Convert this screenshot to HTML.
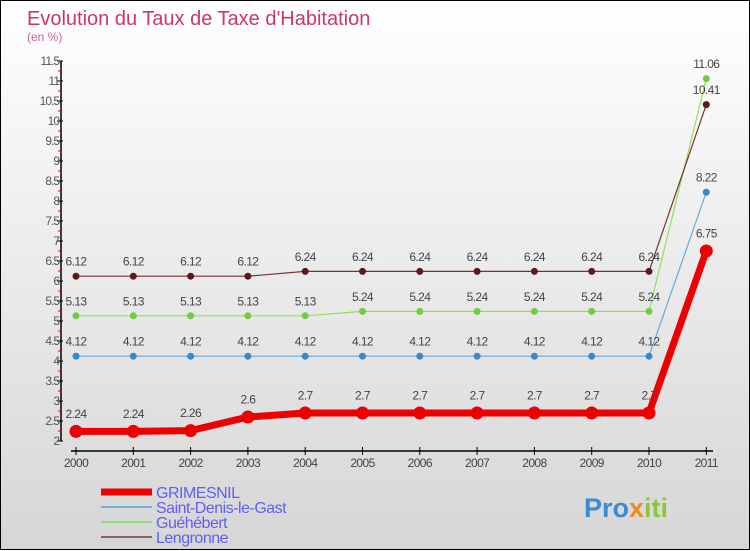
<!DOCTYPE html>
<html><head><meta charset="utf-8">
<style>
html,body{margin:0;padding:0}
body{width:750px;height:550px;overflow:hidden;font-family:"Liberation Sans",sans-serif}
#wrap{position:relative;width:748px;height:548px;border:1px solid #000;background:linear-gradient(#ffffff,#d6d6d6)}
svg{position:absolute;left:0;top:0}
</style></head>
<body>
<div id="wrap">
<svg id="chart" width="750" height="550">
<text x="26" y="24" font-size="20" fill="#c8386a">Evolution du Taux de Taxe d'Habitation</text>
<text x="26" y="40" font-size="12" fill="#d0609a">(en %)</text>
<g id="axes"></g>
<g id="series"></g>
<g id="legend"></g>
<text x="583" y="516" font-size="27" font-weight="bold" fill="#3a8ad8">Pro<tspan fill="#f08a1a">x</tspan><tspan fill="#8ac83a">iti</tspan></text>
</svg>
</div>
<script>
const years = ["2000","2001","2002","2003","2004","2005","2006","2007","2008","2009","2010","2011"];
const grimesnil = [2.24,2.24,2.26,2.6,2.7,2.7,2.7,2.7,2.7,2.7,2.7,6.75];
const saintDenis = [4.12,4.12,4.12,4.12,4.12,4.12,4.12,4.12,4.12,4.12,4.12,8.22];
const guehebert = [5.13,5.13,5.13,5.13,5.13,5.24,5.24,5.24,5.24,5.24,5.24,11.06];
const lengronne = [6.12,6.12,6.12,6.12,6.24,6.24,6.24,6.24,6.24,6.24,6.24,10.41];
const yTicks = [2,2.5,3,3.5,4,4.5,5,5.5,6,6.5,7,7.5,8,8.5,9,9.5,10,10.5,11,11.5];

const NS="http://www.w3.org/2000/svg";
function y(v){return 440-(v-2)*40;}
function x(i){return 75+i*57.3;}
function mk(tag,attrs,parent,txt){const e=document.createElementNS(NS,tag);for(const k in attrs)e.setAttribute(k,attrs[k]);if(txt!==undefined)e.textContent=txt;parent.appendChild(e);return e;}

const axes=document.getElementById('axes');
let l=mk('line',{x1:60,y1:y(2),x2:60,y2:y(11.5),stroke:'#000','stroke-width':1.5},axes);


yTicks.forEach(t=>{
  let tk=mk('line',{x1:56,y1:y(t),x2:62,y2:y(t),stroke:'#000'},axes);
  
  
  let tx=mk('text',{x:58,y:y(t)+4,'font-size':12,fill:'#555','text-anchor':'end','letter-spacing':'-1'},axes,String(t));
  
  
  if(t<11.5){let m=mk('line',{x1:57,y1:y(t+0.25),x2:60,y2:y(t+0.25),stroke:'#e00'},axes);
  
  }
});
l=mk('line',{x1:70,y1:450,x2:712,y2:450,stroke:'#000','stroke-width':1.5},axes);


years.forEach((yr,i)=>{
  let tk=mk('line',{x1:x(i),y1:446,x2:x(i),y2:454,stroke:'#000'},axes);
  
  
  let tx=mk('text',{x:x(i),y:466,'font-size':12,fill:'#444','text-anchor':'middle','letter-spacing':'-0.6'},axes,yr);
  
  
});

const series=document.getElementById('series');
function draw(vals,color,dot,w,r,name){
  const g=mk('g',{},series);
  
  
  const p=mk('polyline',{points:vals.map((v,i)=>x(i)+','+y(v)).join(' '),fill:'none',stroke:color,'stroke-width':w,'stroke-linejoin':'round'},g);
  
  
  vals.forEach((v,i)=>{
    const c=mk('circle',{cx:x(i),cy:y(v),r:r,fill:dot},g);
    
    
    const t=mk('text',{x:x(i),y:y(v)-(r+7),'font-size':12,fill:'#444','text-anchor':'middle','letter-spacing':'-0.6'},g,String(v));
    
    
  });
}
draw(saintDenis,'#6aa8d8','#3a88c8',1.2,3.5,'saint-denis-le-gast');
draw(guehebert,'#90e060','#70cc40',1.2,3.5,'guehebert');
draw(lengronne,'#7a3030','#5a1a1a',1.2,3.5,'lengronne');
draw(grimesnil,'#ee0000','#ee0000',7,6.5,'grimesnil');

const legend=document.getElementById('legend');
const lg=[["GRIMESNIL","#ee0000",7],["Saint-Denis-le-Gast","#7ab0d8",2],["Guéhébert","#90dd70",2],["Lengronne","#906060",2]];
lg.forEach((d,i)=>{
  const yy=491+i*15;
  const ln=mk('line',{x1:100,y1:yy,x2:151,y2:yy,stroke:d[1],'stroke-width':d[2]},legend);
  
  
  const t=mk('text',{x:155,y:yy+6,'font-size':16,fill:'#6060f0','letter-spacing':'-0.5'},legend,d[0]);
  
  
});
</script>
</body></html>
